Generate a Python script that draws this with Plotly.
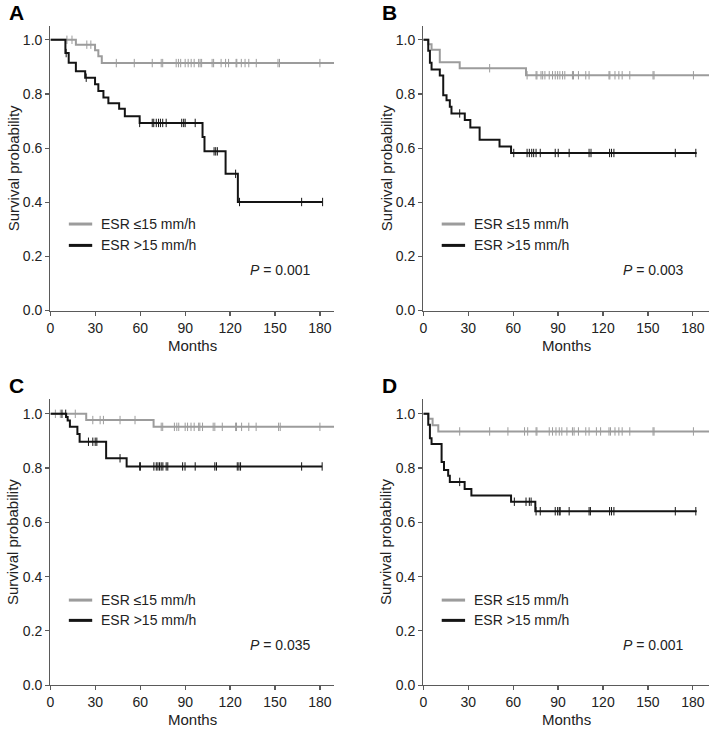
import plotly.graph_objects as go

# ---------------- data ----------------
MONTH_TICKS = [0, 30, 60, 90, 120, 150, 180]
SURV_TICKS = [0.0, 0.2, 0.4, 0.6, 0.8, 1.0]
GROUPS = ["ESR \u226415 mm/h", "ESR >15 mm/h"]
PANEL_LABELS = ["A", "B", "C", "D"]
P_VALUES = ["0.001", "0.003", "0.035", "0.001"]

# Panel A
A_low_t = [0, 17, 29.8, 32, 34.3, 189.5]
A_low_s = [1.0, 0.982, 0.961, 0.939, 0.914, 0.914]
A_low_c = [11, 14.4, 24.3, 27, 44, 56, 68, 74, 75, 84, 85.5, 87, 90, 92, 94, 96, 99, 100, 101,
           108, 109, 114, 117, 119, 124, 124.5, 127.5, 130, 132.5, 137.5, 152, 153, 180]
A_high_t = [0, 10, 12.2, 17, 23.2, 29.8, 32, 35.4, 38.7, 45.9, 49.7, 59.6, 101.6, 102.9, 117, 125.2, 181.8]
A_high_s = [1.0, 0.951, 0.915, 0.884, 0.86, 0.836, 0.811, 0.787, 0.766, 0.745, 0.718, 0.693,
            0.641, 0.588, 0.505, 0.401, 0.401]
A_high_c = [10.5, 23.9, 59.6, 68, 69, 70.7, 72.2, 73.5, 75, 77.3, 87.7, 89, 90, 96.7,
            109.3, 110.4, 111.5, 123.7, 126.3, 167.8, 181.8]

# Panel B
B_low_t = [0, 3.3, 5.5, 11, 24.3, 68.6, 190.8]
B_low_s = [1.0, 0.984, 0.963, 0.917, 0.895, 0.869, 0.869]
B_low_c = [44.3, 69.3, 75.3, 75.9, 78.6, 79.7, 81.2, 84.1, 86.3, 88.1, 89.7, 91.2, 93, 94.5,
           99.6, 100.3, 103.6, 108.5, 110.7, 124, 124.6, 128, 130.6, 132.8, 137.9, 153.4, 154.1, 180.4]
B_high_t = [0, 3.3, 4.4, 5.5, 11, 13.3, 15.5, 17.7, 18.8, 27.7, 31.4, 37.6, 50.9, 58.6, 182.6]
B_high_s = [1.0, 0.96, 0.915, 0.89, 0.868, 0.795, 0.777, 0.753, 0.728, 0.704, 0.676, 0.631,
            0.606, 0.582, 0.582]
B_high_c = [24.3, 60.4, 69.3, 70.8, 72.4, 73.7, 75.3, 78.1, 88.1, 90.1, 97.4, 110.7, 112,
            124.4, 125.7, 127.3, 168.3, 182]

# Panel C
C_low_t = [0, 23.9, 68.9, 189.5]
C_low_s = [1.0, 0.977, 0.952, 0.952]
C_low_c = [3.3, 6.6, 16.6, 28.3, 33.2, 35.4, 46.5, 56.5, 74, 75, 82.8, 84.4, 85.7, 90, 91.6,
           93.9, 96, 99, 99.8, 101.6, 108.7, 109.8, 114.8, 123.7, 124.3, 127.7, 132.5, 137.4,
           152.4, 153.5, 180]
C_high_t = [0, 10.5, 11.5, 13, 18, 19.5, 37.2, 50.9, 181.5]
C_high_s = [1.0, 0.988, 0.975, 0.952, 0.926, 0.897, 0.836, 0.806, 0.806]
C_high_c = [7.7, 10.2, 25.4, 28.3, 29.9, 31, 46.5, 59.6, 60.1, 69.1, 70.7, 71.8, 72.9, 74, 75.1,
            77.3, 78.4, 88.3, 89.9, 96.7, 109.8, 110.9, 124.8, 125.9, 127, 167.8, 181.5]

# Panel D
D_low_t = [0, 3.5, 6.2, 10, 190.8]
D_low_s = [1.0, 0.982, 0.958, 0.935, 0.935]
D_low_c = [24.3, 44.3, 56.5, 67.6, 69.7, 75.3, 75.9, 84.1, 86.3, 88.6, 90.8, 92.5, 95.9, 99.6,
           100.7, 103.6, 108.5, 110.7, 115.6, 118.4, 124, 125, 128, 130.6, 132.8, 137.9,
           153.4, 154.1, 180.4]
D_high_t = [0, 3.3, 4.4, 5.5, 12.2, 13.8, 16.6, 17.7, 27.6, 32.1, 58.6, 74.8, 182.6]
D_high_s = [1.0, 0.96, 0.91, 0.889, 0.822, 0.793, 0.772, 0.749, 0.723, 0.699, 0.676, 0.641, 0.641]
D_high_c = [24.3, 60.8, 68.6, 70.8, 72, 75.3, 78.1, 88.1, 89.7, 90.8, 91.4, 97.4, 110.7, 111.6,
            124.4, 125.7, 127.3, 168.3, 182]

PANELS = [
    (A_low_t, A_low_s, A_low_c, A_high_t, A_high_s, A_high_c),
    (B_low_t, B_low_s, B_low_c, B_high_t, B_high_s, B_high_c),
    (C_low_t, C_low_s, C_low_c, C_high_t, C_high_s, C_high_c),
    (D_low_t, D_low_s, D_low_c, D_high_t, D_high_s, D_high_c),
]

# ---------------- layout geometry ----------------
W, H = 709, 735
GRAY = "#9c9c9c"
BLACK = "#141414"
AXIS = "#5a5a5a"
FONT = "Arial, Liberation Sans, sans-serif"


def px(x):
    return x / W


def py(y):
    return 1 - y / H


# (x_left, x_right, y_top, y_bottom, x_max, y_max) in pixels
GEOM = [
    (46.7, 332, 26, 314, 189.5, 1.052),
    (421.7, 709, 26, 314, 190.8, 1.052),
    (46.7, 332, 403, 692.7, 189.5, 1.056),
    (421.7, 709, 403, 692.7, 190.8, 1.056),
]


def step_value(times, surv, t):
    v = surv[0]
    for ti, si in zip(times, surv):
        if ti <= t:
            v = si
        else:
            break
    return v


fig = go.Figure()
annotations = []
shapes = []

for i, (panel, geom) in enumerate(zip(PANELS, GEOM)):
    lt, ls, lc, ht, hs, hc = panel
    xl, xr, yt, yb, xmax, ymax = geom
    n = "" if i == 0 else str(i + 1)
    xa, ya = "x" + n, "y" + n

    for (t, s, c, col) in [(lt, ls, lc, GRAY), (ht, hs, hc, BLACK)]:
        fig.add_trace(go.Scatter(
            x=t, y=s, mode="lines", line=dict(color=col, width=2, shape="hv"),
            xaxis=xa, yaxis=ya, showlegend=False, hoverinfo="skip"))
        fig.add_trace(go.Scatter(
            x=c, y=[step_value(t, s, ci) for ci in c], mode="markers",
            marker=dict(symbol="line-ns", size=6, line=dict(color=col, width=1)),
            xaxis=xa, yaxis=ya, showlegend=False, hoverinfo="skip", cliponaxis=False))

    axis_common = dict(showline=True, linecolor=AXIS, linewidth=1.3, ticks="outside",
                       ticklen=4, tickcolor=AXIS, tickwidth=1.2, showgrid=False,
                       zeroline=False, tickfont=dict(size=14, color="#222", family=FONT))
    fig.layout["xaxis" + n] = dict(
        domain=[px(xl), min(1.0, px(xr))], range=[0, xmax], tickvals=MONTH_TICKS,
        anchor=ya, **axis_common)
    fig.layout["yaxis" + n] = dict(
        domain=[py(yb), py(yt)], range=[0, ymax], tickvals=SURV_TICKS,
        tickformat=".1f", anchor=xa, **axis_common)

    # panel letter
    annotations.append(dict(text="<b>%s</b>" % PANEL_LABELS[i], x=px(xl - 34), y=py(yt - 13),
                            xref="paper", yref="paper", xanchor="center", yanchor="middle",
                            showarrow=False, font=dict(size=21, color="#000", family=FONT)))
    # y title
    annotations.append(dict(text="Survival probability", x=px(xl - 37.5), y=py((yt + yb) / 2),
                            xref="paper", yref="paper", xanchor="center", yanchor="middle",
                            textangle=-90, showarrow=False,
                            font=dict(size=15, color="#222", family=FONT)))
    # x title
    annotations.append(dict(text="Months", x=px((xl + xr) / 2), y=py(yb + 35),
                            xref="paper", yref="paper", xanchor="center", yanchor="middle",
                            showarrow=False, font=dict(size=15, color="#222", family=FONT)))
    # P value
    annotations.append(dict(text="<i>P</i> = %s" % P_VALUES[i], x=px(xl + 231), y=py(yb - 41),
                            xref="paper", yref="paper", xanchor="center", yanchor="middle",
                            showarrow=False, font=dict(size=14, color="#222", family=FONT)))
    # legend
    gap = 21.6 if i < 2 else 20.5
    ly0 = yb - 87.5 if i < 2 else yb - 86
    for k, (g, col) in enumerate(zip(GROUPS, [GRAY, BLACK])):
        yy = ly0 + k * gap
        shapes.append(dict(type="line", xref="paper", yref="paper",
                           x0=px(xl + 18.5), x1=px(xl + 42), y0=py(yy), y1=py(yy),
                           line=dict(color=col, width=3)))
        annotations.append(dict(text=g, x=px(xl + 49), y=py(yy), xref="paper", yref="paper",
                                xanchor="left", yanchor="middle", showarrow=False,
                                font=dict(size=14, color="#222", family=FONT)))

fig.update_layout(
    width=W, height=H, margin=dict(l=0, r=0, t=0, b=0),
    paper_bgcolor="white", plot_bgcolor="white",
    annotations=annotations, shapes=shapes, showlegend=False,
    font=dict(family=FONT),
)

# remove the browser's default 8px page margin so the figure sits at the window corner
fig.write_html("out.html",
               config={"displayModeBar": False, "staticPlot": True},
               post_script="document.body.style.margin='0';document.body.style.overflow='hidden';")
